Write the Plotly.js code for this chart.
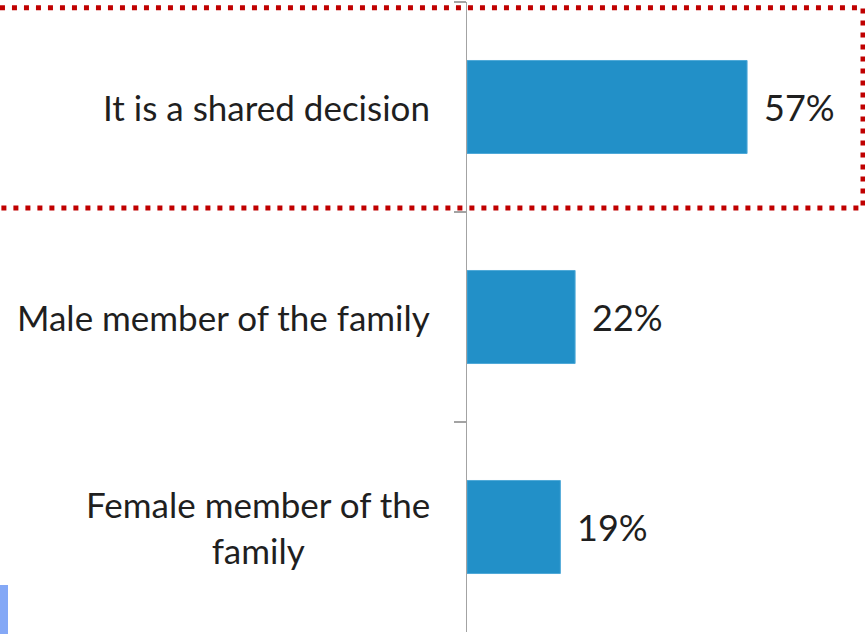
<!DOCTYPE html>
<html>
<head>
<meta charset="utf-8">
<script src="https://cdn.plot.ly/plotly-3.0.1.min.js"></script>
<style>html,body{margin:0;padding:0;background:#fff;}#chart{width:865px;height:634px;}</style>
</head>
<body>
<div id="chart"></div>
<script>
const categories = ["It is a shared decision", "Male member of the family", "Female member of the family"];
const categoryLabels = ["It is a shared decision", "Male member of the family", "Female member of the<br>family"];
const values = [57, 22, 19];
const valueLabels = ["57%", "22%", "19%"];

const FONT = "Lato, 'Open Sans', sans-serif";
const TXT = "#1f1f1f";

const trace = {
  type: "bar",
  orientation: "h",
  x: values,
  y: categories,
  width: 0.443,
  marker: {color: "#2290C8", line: {color: "#4FA9D8", width: 1}},
  hoverinfo: "none"
};

const annotations = [];
categories.forEach((c, i) => {
  annotations.push({
    xref: "paper", yref: "y", x: 0, y: c,
    text: categoryLabels[i], showarrow: false,
    xanchor: "right", yanchor: "middle", align: "center",
    xshift: -35,
    font: {family: FONT, size: 35, color: TXT}
  });
  annotations.push({
    xref: "x", yref: "y", x: values[i], y: c,
    text: valueLabels[i], showarrow: false,
    xanchor: "left", yanchor: "middle",
    xshift: 15,
    font: {family: FONT, size: 36, color: TXT}
  });
});

const layout = {
  width: 865, height: 634,
  margin: {l: 467, r: 0, t: 2, b: 2, pad: 0},
  paper_bgcolor: "#fff", plot_bgcolor: "#fff",
  showlegend: false,
  xaxis: {visible: false, range: [0, 81], zeroline: false, showgrid: false, fixedrange: true},
  yaxis: {
    type: "category", categoryorder: "array", categoryarray: categories,
    autorange: "reversed",
    showline: true, linecolor: "#A3A3A3", linewidth: 1.5,
    ticks: "outside", tickson: "boundaries", ticklen: 12, tickwidth: 1.5, tickcolor: "#A3A3A3",
    showticklabels: false, showgrid: false, zeroline: false, fixedrange: true
  },
  annotations: annotations,
  shapes: [
    {type: "rect", xref: "paper", yref: "paper",
     x0: -1.2, x1: 0.995, y0: 0.673, y1: 0.991,
     line: {color: "#C00000", width: 5, dash: "5px,7px"}, fillcolor: "rgba(0,0,0,0)", layer: "above"},
    {type: "rect", xref: "paper", yref: "paper",
     x0: -1.1734, x1: -1.1533, y0: -0.01, y1: 0.0746,
     line: {width: 0}, fillcolor: "#84A8F6", layer: "above"}
  ]
};

Plotly.newPlot("chart", [trace], layout, {staticPlot: true, displayModeBar: false});
</script>
</body>
</html>
